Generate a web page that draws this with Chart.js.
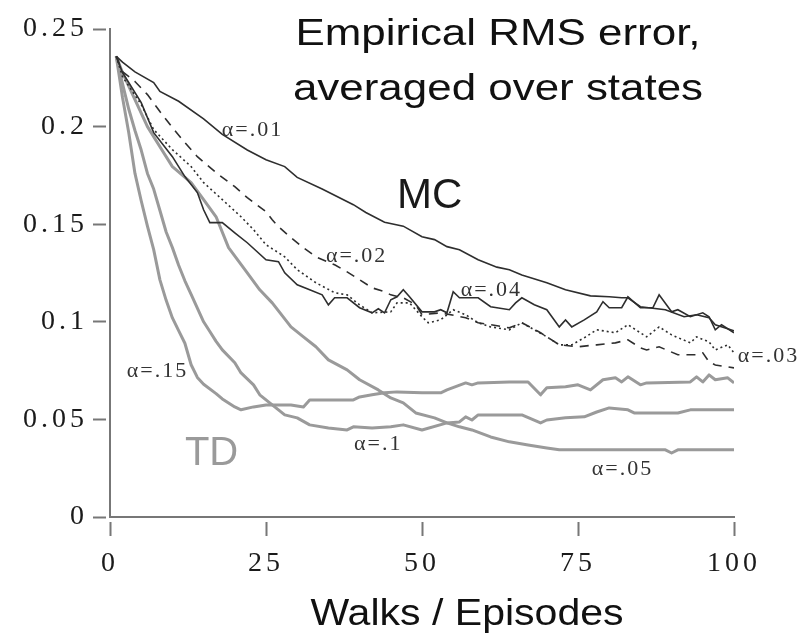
<!DOCTYPE html>
<html>
<head>
<meta charset="utf-8">
<script src="https://cdn.jsdelivr.net/npm/chart.js@4.4.1/dist/chart.umd.min.js"></script>
<style>
  html, body { margin: 0; padding: 0; background: #fff; }
  #chart { display: block; }
</style>
</head>
<body>
<canvas id="chart" width="808" height="638"></canvas>
<script>
// RMS error per walk (episode numbers + error values)
// MC, alpha = .01
const mc01Ep  = [1,2,4,7,8,11,15,18,22,25,28,30,34,39,41,44,47,50,52,54,56,59,62,64,66,70,73,77,80,82,83,85,89,92,94,96,97,100];
const mc01Err = [.236,.233,.228,.2226,.218,.213,.204,.196,.188,.183,.1795,.174,.168,.160,.156,.151,.149,.1436,.1421,.1385,.1369,.1318,.128,.1267,.124,.12,.1164,.1133,.1128,.1123,.1123,.1077,.1062,.1026,.1036,.1021,.0985,.0954];

// MC, alpha = .02 (dashed)
const mc02Ep  = [1,2,4,6,8,10,12,14,17,20,22,25,26,27,29,31,33,36,38,40,42,44,45,47,49,50,53,57,59,61,64,66,69,70,72,75,78,81,83,85,86,88,91,94,95,96,97,100];
const mc02Err = [.236,.2282,.2231,.2164,.2077,.1995,.1918,.1846,.1764,.1692,.1636,.1564,.1523,.1487,.1431,.1379,.1333,.1292,.1256,.1215,.1174,.1154,.1138,.1123,.1087,.1036,.1046,.1021,.0995,.0985,.0969,.0995,.0944,.0923,.0882,.0872,.0882,.0892,.0908,.0867,.0856,.0872,.0831,.0831,.0841,.0795,.0779,.0764];

// MC, alpha = .03 (dotted)
const mc03Ep  = [1,2,5,7,10,13,15,18,21,23,25,28,30,33,36,38,40,42,45,46,48,50,51,53,55,57,59,61,64,66,68,70,72,74,76,78,81,83,86,88,90,93,94,96,97,99,100];
const mc03Err = [.236,.2256,.2113,.1985,.1882,.1795,.1713,.1626,.1538,.1472,.1395,.1333,.1267,.12,.1149,.1138,.1087,.1046,.1051,.1097,.1097,.1026,.0995,.101,.1062,.1036,.0995,.0974,.0959,.0995,.0959,.0923,.0882,.0882,.0918,.0959,.0944,.0985,.0923,.0974,.0933,.0892,.0923,.0897,.0856,.0882,.0841];

// MC, alpha = .04
const mc04Ep  = [1,2,5,7,10,12,14,15,16,18,20,22,25,27,28,30,32,34,35,36,38,40,42,43,44,45,46,47,48,50,52,53,54,55,56,59,61,64,65,66,68,70,72,73,74,76,78,79,80,82,83,85,87,88,90,91,93,95,96,97,98,100];
const mc04Err = [.236,.2277,.2123,.1969,.1846,.1744,.1662,.1574,.1508,.1508,.1456,.1405,.1318,.1308,.1251,.119,.1164,.1138,.1087,.1123,.1123,.1072,.1046,.1067,.1046,.1113,.1128,.1164,.1128,.1051,.1051,.1062,.1046,.1154,.1123,.1123,.1077,.1062,.1097,.1123,.1087,.1062,.0974,.101,.0974,.101,.1051,.1103,.1072,.1072,.1128,.1072,.1072,.1138,.1051,.1062,.1026,.1046,.1026,.0959,.0985,.0944];

// TD, alpha = .15
const td15Ep  = [1,2,3,4,5,6,7,8,9,10,11,12,13,14,15,17,18,20,21,23,25,29,31,32,39,40,42,44,46,50,53,54,57,58,59,64,67,69,70,73,75,77,79,81,82,83,85,86,93,94,95,96,97,99,100];
const td15Err = [.236,.215,.197,.176,.162,.149,.137,.1215,.111,.102,.0955,.089,.078,.0715,.068,.0632,.0605,.0564,.0549,.0564,.0574,.0574,.0564,.06,.06,.0615,.0626,.0636,.0641,.0636,.0636,.0651,.0687,.0677,.0687,.0692,.0692,.0626,.0662,.0667,.0677,.0651,.0703,.0713,.0692,.0718,.0677,.0687,.0692,.0718,.0692,.0728,.0703,.0713,.0687];

// TD, alpha = .1
const td10Ep  = [1,2,3,4,5,6,7,8,9,10,11,12,13,14,15,16,17,18,20,21,23,24,26,28,30,32,35,38,39,42,45,47,50,54,56,57,58,59,66,69,70,73,76,78,80,83,84,91,93,100];
const td10Err = [.236,.222,.209,.198,.188,.176,.168,.157,.146,.138,.129,.121,.114,.107,.1,.095,.09,.0856,.079,.0738,.0677,.0626,.0574,.0523,.0508,.0472,.0456,.0446,.0462,.0456,.0462,.0472,.0446,.0482,.0487,.0513,.0497,.0523,.0523,.0482,.0497,.0508,.0513,.0538,.0559,.0549,.0533,.0533,.0549,.0549];

// TD, alpha = .05
const td05Ep  = [1,2,4,6,8,10,13,15,17,19,22,24,26,29,31,33,35,38,40,43,45,47,49,52,54,56,58,61,64,67,70,72,89,90,91,100];
const td05Err = [.236,.2277,.2138,.2,.1897,.1795,.1713,.1626,.1538,.138,.1251,.1164,.1097,.0974,.0923,.0872,.0805,.0754,.0703,.0651,.061,.0585,.0533,.0508,.0482,.0462,.0446,.041,.0385,.0369,.0354,.0344,.0344,.0328,.0344,.0344];

const titleLines = ['Empirical RMS error,', 'averaged over states'];
const xTitle = 'Walks / Episodes';

const toPoints = (ep, err) => ep.map((e, i) => ({ x: e, y: err[i] }));

const MC_COLOR = '#2e2e2e';
const TD_COLOR = '#9a9a9a';
const AXIS_COLOR = '#777';

const mcLine = (label, ep, err, dash) => ({
  label, data: toPoints(ep, err), borderColor: MC_COLOR, borderWidth: 1.6,
  borderDash: dash || [], pointRadius: 0, tension: 0, fill: false
});
const tdLine = (label, ep, err) => ({
  label, data: toPoints(ep, err), borderColor: TD_COLOR, borderWidth: 3,
  pointRadius: 0, tension: 0, fill: false, borderJoinStyle: 'round'
});

// draw text stretched horizontally like the original figure
function drawText(ctx, text, x, y, font, color, sx, spacing) {
  ctx.save();
  ctx.font = font;
  ctx.fillStyle = color;
  ctx.textAlign = 'left';
  ctx.textBaseline = 'alphabetic';
  ctx.letterSpacing = spacing || '0px';
  ctx.translate(x, y);
  ctx.scale(sx, 1);
  ctx.fillText(text, 0, 0);
  ctx.restore();
}

const annotate = {
  id: 'annotate',
  beforeDraw(chart) {
    // wide-set numerals of the tick labels
    chart.ctx.letterSpacing = '4px';
  },
  afterDraw(chart) {
    const { ctx, scales: { x, y } } = chart;
    ctx.letterSpacing = '0px';
    const serif = '22px "Liberation Serif"';
    // curve labels, anchored in data coordinates
    const notes = [
      ['α=.01', 17.9, .195],
      ['α=.02', 34.6, .1308],
      ['α=.04', 56.2, .1133],
      ['α=.03', 100.6, .0795],
      ['α=.15', 2.7, .0718],
      ['α=.1', 39.1, .0344],
      ['α=.05', 77.2, .0215]
    ];
    notes.forEach(([t, ex, ev]) => {
      drawText(ctx, t, x.getPixelForValue(ex), y.getPixelForValue(ev), serif, '#333', 1, '2px');
    });
    drawText(ctx, 'MC', x.getPixelForValue(46), y.getPixelForValue(.1585), '42px "Liberation Sans"', '#1a1a1a', 1);
    drawText(ctx, 'TD', x.getPixelForValue(12), y.getPixelForValue(.0267), '40px "Liberation Sans"', TD_COLOR, 1);

    // title, two lines centred at the upper right
    ctx.save();
    ctx.font = '36px "Liberation Sans"';
    titleLines.forEach((line, i) => {
      const w = ctx.measureText(line).width * 1.22;
      drawText(ctx, line, 498 - w / 2, 45 + i * 55, '36px "Liberation Sans"', '#111', 1.22);
    });
    const wx = ctx.measureText(xTitle).width * 1.14;
    drawText(ctx, xTitle, (x.left + x.right) / 2 + 45 - wx / 2, 625, '36px "Liberation Sans"', '#111', 1.14);
    ctx.restore();
  }
};

new Chart(document.getElementById('chart'), {
  type: 'line',
  data: {
    datasets: [
      mcLine('MC α=.01', mc01Ep, mc01Err),
      mcLine('MC α=.02', mc02Ep, mc02Err, [9, 7]),
      mcLine('MC α=.03', mc03Ep, mc03Err, [2, 3]),
      mcLine('MC α=.04', mc04Ep, mc04Err),
      tdLine('TD α=.15', td15Ep, td15Err),
      tdLine('TD α=.1', td10Ep, td10Err),
      tdLine('TD α=.05', td05Ep, td05Err)
    ]
  },
  options: {
    responsive: false,
    animation: false,
    layout: { padding: { top: 29, right: 74, left: 0, bottom: 0 } },
    plugins: { legend: { display: false }, tooltip: { enabled: false } },
    scales: {
      x: {
        type: 'linear', min: 0, max: 100,
        ticks: { stepSize: 25, color: '#1a1a1a', padding: 11, maxRotation: 0,
                 font: { family: 'Liberation Serif', size: 28 } },
        grid: { drawOnChartArea: false, tickLength: 19, tickWidth: 2, tickColor: AXIS_COLOR,
                tickBorderDash: [0, 4, 14, 100] },
        border: { color: AXIS_COLOR, width: 2 },
        afterFit: s => { s.height = 121; }
      },
      y: {
        min: 0, max: 0.25,
        ticks: { stepSize: 0.05, color: '#1a1a1a', padding: 5,
                 font: { family: 'Liberation Serif', size: 28 },
                 callback: v => String(+v.toFixed(2)) },
        grid: { drawOnChartArea: false, tickLength: 17, tickWidth: 2, tickColor: AXIS_COLOR,
                tickBorderDash: [13, 100] },
        border: { color: AXIS_COLOR, width: 2 },
        afterFit: s => { s.width = 110; }
      }
    }
  },
  plugins: [annotate]
});
</script>
</body>
</html>
